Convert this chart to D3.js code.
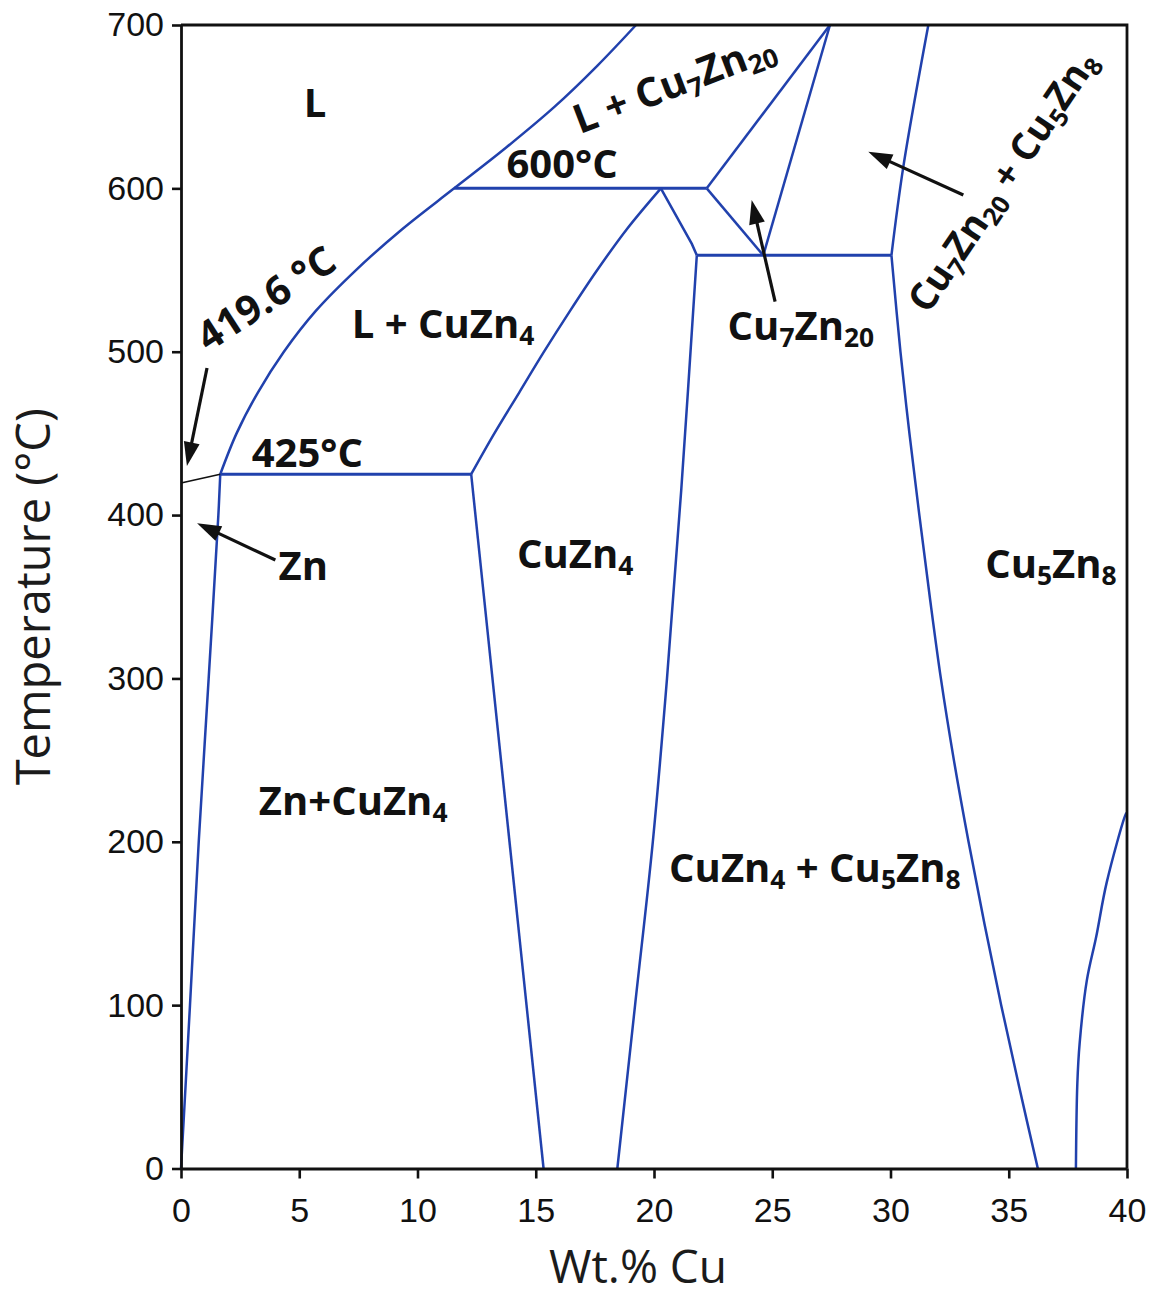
<!DOCTYPE html>
<html><head><meta charset="utf-8">
<script src="https://cdn.jsdelivr.net/npm/d3@7"></script>
<style>
html,body{margin:0;padding:0;background:#fff;}
svg{display:block;}
</style></head>
<body>
<svg id="chart" width="1160" height="1299"></svg>
<script>
// Zn-rich end of the Cu–Zn phase diagram: temperature vs. wt.% Cu

const xTicks = [0, 5, 10, 15, 20, 25, 30, 35, 40];
const yTicks = [0, 100, 200, 300, 400, 500, 600, 700];

// invariant temperatures (°C)
const T_ZN_MELT = 419.6;
const T_EUTECTIC = 425;
const T_PERITECTIC = 600;
const T_EUTECTOID = 559;

// phase boundaries, each point is [wt.% Cu, °C]
const znSolvus       = [[0, 0], [0.38, 100], [0.75, 200], [1.17, 300], [1.58, 400], [1.66, T_EUTECTIC]];
const liquidus       = [[1.66, T_EUTECTIC], [2.35, 450], [3.25, 475], [4.35, 500], [5.7, 525], [7.4, 550], [9.35, 575], [11.55, T_PERITECTIC], [13.75, 625], [15.8, 650], [17.6, 675], [19.24, 700]];
const eutecticLine   = [[1.66, T_EUTECTIC], [12.27, T_EUTECTIC]];
const znMeltLine     = [[0, T_ZN_MELT], [1.66, T_EUTECTIC]];
const cuzn4Left      = [[12.27, T_EUTECTIC], [15.33, 0]];
const cuzn4Liquidus  = [[12.27, T_EUTECTIC], [13.25, 450], [14.3, 475], [15.35, 500], [16.45, 525], [17.6, 550], [18.85, 575], [20.29, T_PERITECTIC]];
const peritecticLine = [[11.55, T_PERITECTIC], [22.23, T_PERITECTIC]];
const cuzn4Upper     = [[20.29, T_PERITECTIC], [21.6, 566], [21.81, T_EUTECTOID]];
const cuzn4Right     = [[21.81, T_EUTECTOID], [21.15, 415], [20.55, 300], [19.95, 200], [19.2, 100], [18.45, 0]];
const eutectoidLine  = [[21.81, T_EUTECTOID], [30.04, T_EUTECTOID]];
const cu7zn20Liq     = [[22.23, T_PERITECTIC], [27.44, 700]];
const cu7zn20Left    = [[22.23, T_PERITECTIC], [24.62, T_EUTECTOID]];
const cu7zn20Right   = [[24.62, T_EUTECTOID], [27.44, 700]];
const cu5zn8Upper    = [[30.04, T_EUTECTOID], [30.54, 613], [31.6, 700]];
const cu5zn8Left     = [[30.04, T_EUTECTOID], [30.42, 500], [30.8, 450], [31.22, 400], [31.66, 350], [32.13, 300], [32.68, 250], [33.3, 200], [33.97, 150], [34.68, 100], [35.44, 50], [36.23, 0]];
const cu5zn8Right    = [[37.84, 0], [37.9, 52], [38.0, 77], [38.3, 115], [38.7, 142], [39.14, 175], [39.95, 217], [40, 218]];

// region and invariant labels; "_{..}" marks a subscript
const labels = [
  { text: "L",                         at: [5.67, 643.6] },
  { text: "L + Cu_{7}Zn_{20}",         at: [21.06, 656.5], rot: -21 },
  { text: "600°C",                     at: [16.11, 606.3] },
  { text: "419.6 °C",                  at: [3.92, 525.5],  rot: -33 },
  { text: "L + CuZn_{4}",              at: [11.08, 508.4] },
  { text: "425°C",                     at: [5.34, 429.4] },
  { text: "Zn",                        at: [5.17, 360.2] },
  { text: "CuZn_{4}",                  at: [16.67, 367.6] },
  { text: "Cu_{7}Zn_{20}",             at: [26.21, 507.2] },
  { text: "Cu_{7}Zn_{20} + Cu_{5}Zn_{8}", at: [35.2, 600], rot: -56, size: 38 },
  { text: "Cu_{5}Zn_{8}",              at: [36.78, 361.4] },
  { text: "Zn+CuZn_{4}",               at: [7.28, 216.4] },
  { text: "CuZn_{4} + Cu_{5}Zn_{8}",   at: [26.8, 175.5] }
];

// pointer arrows: tail -> head, in [wt.% Cu, °C]
const arrows = [
  { from: [1.1, 490],    to: [0.25, 430] },
  { from: [3.99, 372.5], to: [0.68, 395] },
  { from: [25.12, 530.6], to: [24.13, 592.9] },
  { from: [33.08, 595.9], to: [29.06, 622.4] }
];

const margin = { left: 181, top: 25, right: 33, bottom: 130.5 };
const width = 1160 - margin.left - margin.right;
const height = 1299 - margin.top - margin.bottom;

const svg = d3.select("#chart");
const g = svg.append("g").attr("transform", `translate(${margin.left},${margin.top})`);

const x = d3.scaleLinear().domain([0, 40]).range([0, width]);
const y = d3.scaleLinear().domain([0, 700]).range([height, 0]);

const BLUE = "#2141ad";

const smooth = d3.line().x(d => x(d[0])).y(d => y(d[1])).curve(d3.curveCatmullRom.alpha(0.5));
const straight = d3.line().x(d => x(d[0])).y(d => y(d[1]));

// phase boundaries
const curved = [znSolvus, liquidus, cuzn4Liquidus, cu5zn8Left, cu5zn8Right, cu5zn8Upper, cuzn4Right];
const linear = [cuzn4Left, cuzn4Upper, cu7zn20Liq, cu7zn20Left, cu7zn20Right];
const invariants = [eutecticLine, peritecticLine, eutectoidLine];

g.selectAll("path.curve").data(curved).join("path")
  .attr("class", "curve").attr("d", smooth)
  .attr("fill", "none").attr("stroke", BLUE).attr("stroke-width", 2.5);
g.selectAll("path.seg").data(linear).join("path")
  .attr("class", "seg").attr("d", straight)
  .attr("fill", "none").attr("stroke", BLUE).attr("stroke-width", 2.5);
g.selectAll("path.inv").data(invariants).join("path")
  .attr("class", "inv").attr("d", straight)
  .attr("fill", "none").attr("stroke", BLUE).attr("stroke-width", 3);
g.append("path").attr("d", straight(znMeltLine))
  .attr("fill", "none").attr("stroke", "#111").attr("stroke-width", 1.6);

// axes and frame
const xAxis = d3.axisBottom(x).tickValues(xTicks).tickSize(10).tickSizeOuter(0).tickPadding(19);
const yAxis = d3.axisLeft(y).tickValues(yTicks).tickSize(9).tickSizeOuter(0).tickPadding(8);

const gx = g.append("g").attr("transform", `translate(0,${height})`).call(xAxis);
const gy = g.append("g").call(yAxis);
[gx, gy].forEach(a => {
  a.selectAll("path.domain").attr("stroke", "#111").attr("stroke-width", 2.8);
  a.selectAll(".tick line").attr("stroke", "#111").attr("stroke-width", 2.6);
  a.selectAll(".tick text").attr("font-family", "'Liberation Sans', Arial, sans-serif")
    .attr("font-size", 34).attr("fill", "#111");
});
g.append("path")
  .attr("d", `M0,0H${width}V${height}`)
  .attr("fill", "none").attr("stroke", "#111").attr("stroke-width", 2.8);

// axis titles
svg.append("text")
  .attr("transform", `translate(50,${margin.top + height / 2})rotate(-90)`)
  .attr("text-anchor", "middle")
  .attr("font-family", "'Open Sans', sans-serif").attr("font-size", 47).attr("fill", "#1b1b1b")
  .text("Temperature (°C)");
svg.append("text")
  .attr("x", 638).attr("y", 1283)
  .attr("text-anchor", "middle")
  .attr("font-family", "'Open Sans', sans-serif").attr("font-size", 46).attr("fill", "#1b1b1b")
  .text("Wt.% Cu");

// labels with subscripts
const LABEL_SIZE = 40;
const SUB_SHIFT = 7;

labels.forEach(l => {
  const px = x(l.at[0]), py = y(l.at[1]);
  const size = l.size || LABEL_SIZE;
  const t = g.append("text")
    .attr("transform", `translate(${px},${py})` + (l.rot ? `rotate(${l.rot})` : ""))
    .attr("text-anchor", "middle")
    .attr("font-family", "'Open Sans', sans-serif")
    .attr("font-weight", 700)
    .attr("font-size", size)
    .attr("fill", "#111");
  const parts = l.text.split(/(_\{[^}]*\})/).filter(s => s.length);
  let lowered = false;
  parts.forEach(p => {
    const isSub = p.startsWith("_{");
    const ts = t.append("tspan").text(isSub ? p.slice(2, -1) : p);
    if (isSub) {
      ts.attr("font-size", size * 0.66);
      if (!lowered) { ts.attr("dy", SUB_SHIFT); lowered = true; }
    } else if (lowered) {
      ts.attr("dy", -SUB_SHIFT); lowered = false;
    }
  });
});

// arrows
const HEAD_LEN = 24, HEAD_HALF = 8;
arrows.forEach(a => {
  const x0 = x(a.from[0]), y0 = y(a.from[1]);
  const x1 = x(a.to[0]), y1 = y(a.to[1]);
  const dx = x1 - x0, dy = y1 - y0, len = Math.hypot(dx, dy);
  const ux = dx / len, uy = dy / len;
  const bx = x1 - ux * HEAD_LEN, by = y1 - uy * HEAD_LEN;
  g.append("line")
    .attr("x1", x0).attr("y1", y0).attr("x2", bx + ux * 2).attr("y2", by + uy * 2)
    .attr("stroke", "#111").attr("stroke-width", 3.2);
  g.append("path")
    .attr("d", `M${x1},${y1}L${bx - uy * HEAD_HALF},${by + ux * HEAD_HALF}L${bx + uy * HEAD_HALF},${by - ux * HEAD_HALF}Z`)
    .attr("fill", "#111");
});
</script>
</body></html>
